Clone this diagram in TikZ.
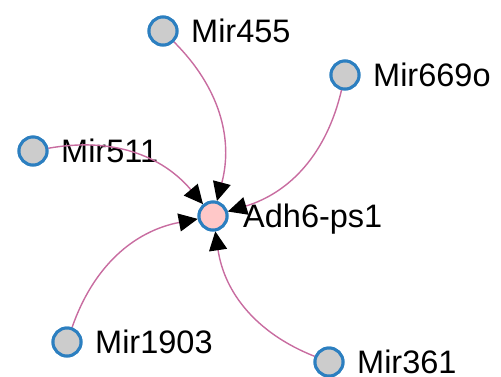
\documentclass[tikz,border=0pt]{standalone}
\usepackage{fontspec}
\setmainfont{Liberation Sans}
\usetikzlibrary{arrows.meta}
\definecolor{nodeborder}{RGB}{44,127,192}
\definecolor{nodefill}{RGB}{204,204,204}
\definecolor{targetfill}{RGB}{255,200,200}
\definecolor{edgecol}{RGB}{200,108,160}
\tikzset{
  gene/.style={circle, draw=nodeborder, line width=3pt, fill=nodefill, minimum size=28pt, inner sep=0pt},
  target/.style={gene, fill=targetfill},
  lbl/.style={anchor=base west, inner sep=0pt, font=\fontsize{32.5}{36}\selectfont},
  link/.style={edgecol, line width=1.4pt, -{Triangle[length=19pt,width=18pt,fill=black,color=black]}}
}
\begin{document}
\begin{tikzpicture}[x=1pt,y=-1pt]
\useasboundingbox (0,0) rectangle (501,376);
\node[gene] (n455) at (163,31) {};
\node[gene] (n669) at (345,75) {};
\node[gene] (n511) at (33,151) {};
\node[target] (adh) at (213,216) {};
\node[gene] (n1903) at (67,342) {};
\node[gene] (n361) at (329,362) {};
\node[lbl] (t455) at (191,42.7) {Mir455};
\node[lbl] (t669) at (373,86.7) {Mir669o};
\node[lbl] (t511) at (61,162.7) {Mir511};
\node[lbl] (tadh) at (243,227.7) {Adh6-ps1};
\node[lbl] (t1903) at (95,353.7) {Mir1903};
\node[lbl] (t361) at (357,373.2) {Mir361};
\draw[link] (n455) to[bend left=30] (adh);
\draw[link] (n669) to[bend left=30] (adh);
\draw[link] (n511) to[bend left=30] (adh);
\draw[link] (n1903) to[bend left=30] (adh);
\draw[link] (n361) to[bend left=30] (adh);
\node[gene] at (n455) {};
\node[gene] at (n669) {};
\node[gene] at (n511) {};
\node[target] at (adh) {};
\node[gene] at (n1903) {};
\node[gene] at (n361) {};
\end{tikzpicture}
\end{document}
